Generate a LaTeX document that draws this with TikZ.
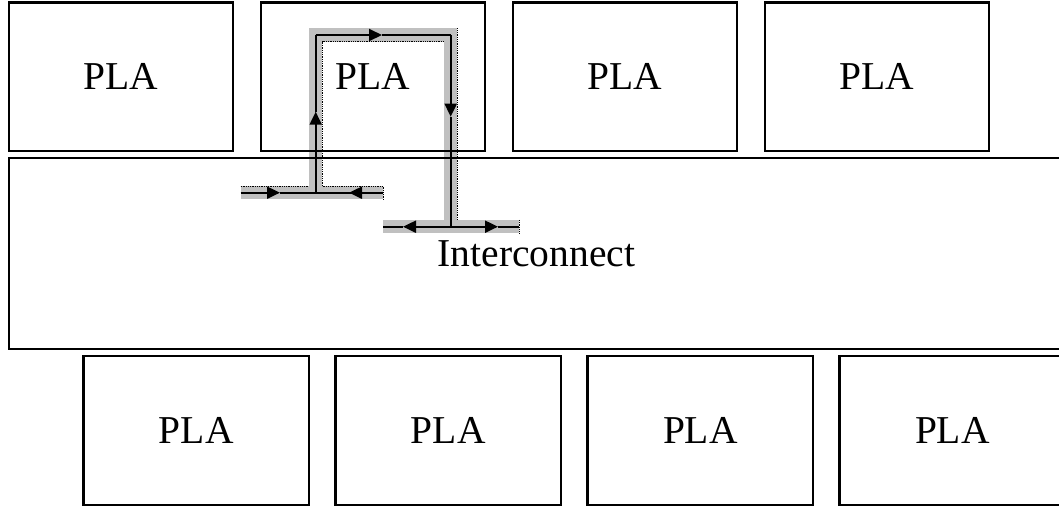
\documentclass[tikz,border=0pt]{standalone}
\usepackage{fontspec}
\setmainfont{Liberation Serif}
\usetikzlibrary{arrows.meta}
\definecolor{bandgray}{RGB}{192,192,192}
\begin{document}
\begin{tikzpicture}[x=1pt,y=-1pt,
  block/.style={draw,line width=2.2pt,minimum width=224pt,minimum height=148.5pt,
    inner sep=0pt,font=\fontsize{39.5}{47}\selectfont},
  bus/.style={draw,line width=2.2pt,minimum width=1055pt,minimum height=191pt,
    inner sep=0pt,font=\fontsize{39.5}{47}\selectfont},
  band/.style={line width=13.5pt,draw=bandgray,line join=miter},
  wire/.style={line width=2pt},
  tip/.style={-{Triangle[length=13pt,width=12pt]}},
  outline/.style={densely dotted,line width=0.8pt}]
\useasboundingbox (0,0) rectangle (1059,507);
\clip (0,0) rectangle (1059,507);

% routing path coordinates
\coordinate (lt-w) at (240.7,192.7);
\coordinate (lt-m) at (315.7,192.7);
\coordinate (lt-e) at (383,192.7);
\coordinate (top-w) at (315.7,35);
\coordinate (top-e) at (450.7,35);
\coordinate (rt-w) at (383,226.7);
\coordinate (rt-m) at (450.7,226.7);
\coordinate (rt-e) at (519,226.7);

% highlighted route
\draw[band,line cap=butt] (lt-w) -- (lt-e);
\draw[band,line cap=butt] (rt-w) -- (rt-e);
\draw[band] (lt-m) -- (top-w) -- (top-e) -- (rt-m);
\draw[outline] (240.7,185.9) -- (308.9,185.9);
\draw[outline] (322.5,185.9) -- (383,185.9) -- (383,199.4);
\draw[outline] (322.5,185.9) -- (322.5,41.8) -- (443.9,41.8);
\draw[outline] (457.5,28.2) -- (457.5,219.9);
\draw[outline] (519,219.9) -- (519,233.4);

% logic blocks, top row
\node[block] (pla1) at (121,76.7) {PLA};
\node[block] (pla2) at (373,76.7) {PLA};
\node[block] (pla3) at (625,76.7) {PLA};
\node[block] (pla4) at (877,76.7) {PLA};

% interconnect
\node[bus] (ic) at (536.5,253.5) {Interconnect};

% logic blocks, bottom row
\node[block,minimum width=225.5pt,minimum height=149pt] (pla5) at (196.3,430.5) {PLA};
\node[block,minimum width=225.5pt,minimum height=149pt] (pla6) at (448.3,430.5) {PLA};
\node[block,minimum width=225.5pt,minimum height=149pt] (pla7) at (700.3,430.5) {PLA};
\node[block,minimum width=225.5pt,minimum height=149pt] (pla8) at (952.3,430.5) {PLA};

% wires with direction marks
\draw[wire,tip] (lt-w) -- (280,192.7);
\draw[wire] (280,192.7) -- (lt-e);
\draw[wire,tip] (lt-e) -- (349,192.7);
\draw[wire,tip] (lt-m) -- (315.7,111.7);
\draw[wire] (315.7,111.7) -- (top-w);
\draw[wire,tip] (top-w) -- (382,35);
\draw[wire] (382,35) -- (top-e);
\draw[wire,tip] (top-e) -- (450.7,116.7);
\draw[wire] (450.7,116.7) -- (rt-m);
\draw[wire,tip] (rt-m) -- (403,226.7);
\draw[wire] (403,226.7) -- (rt-w);
\draw[wire,tip] (rt-m) -- (498,226.7);
\draw[wire] (498,226.7) -- (rt-e);
\end{tikzpicture}
\end{document}
